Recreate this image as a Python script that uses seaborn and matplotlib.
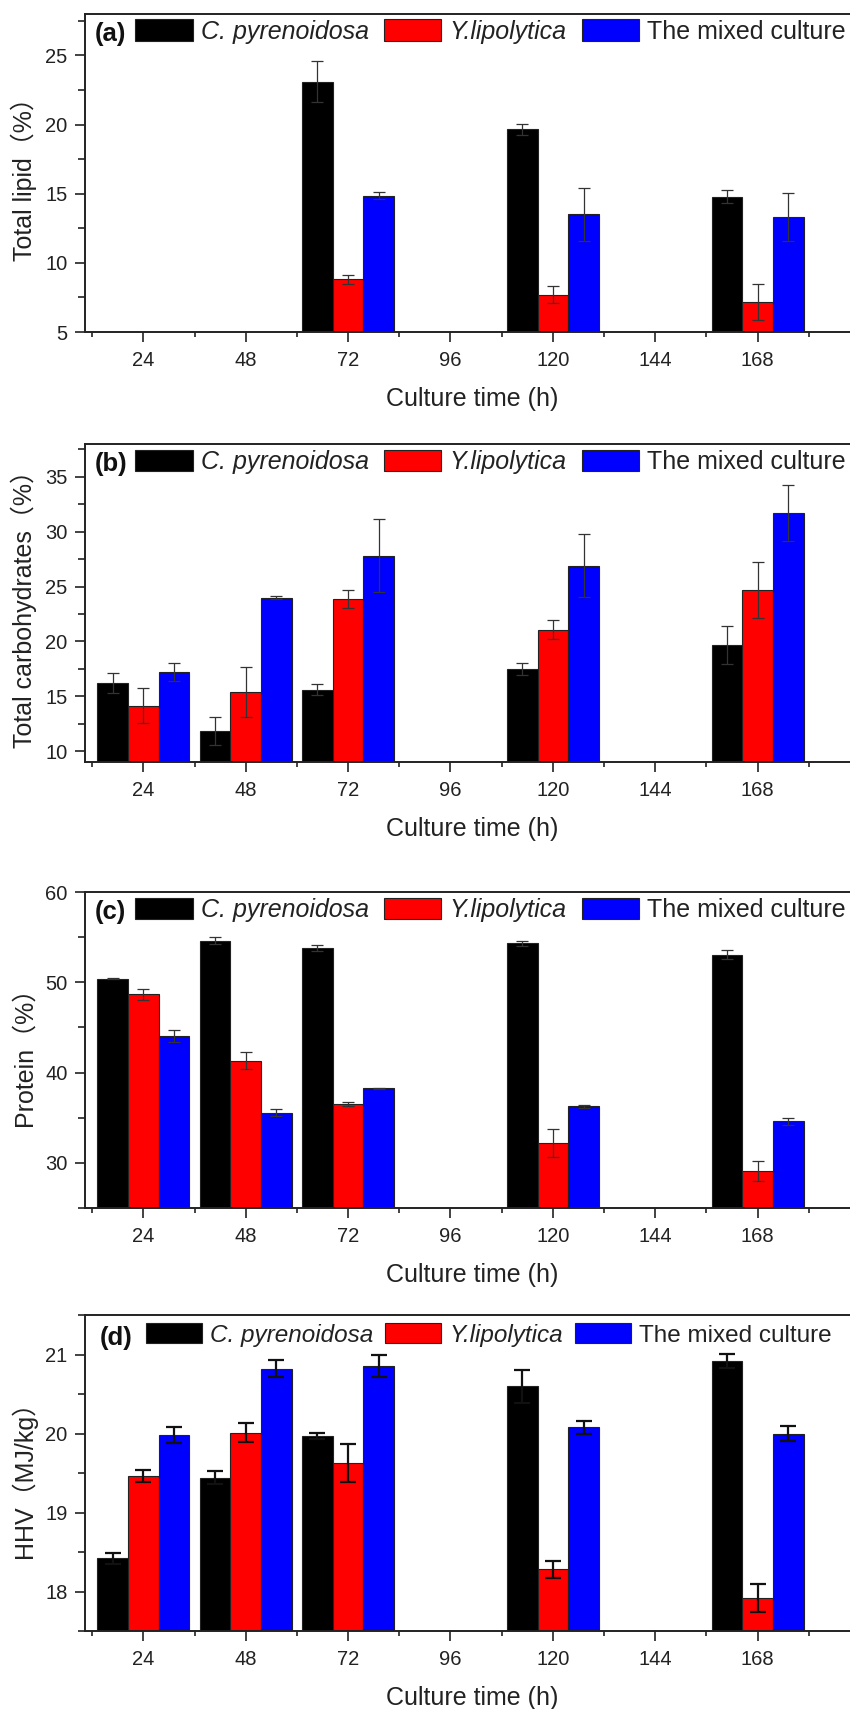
import numpy as np
import pandas as pd
import matplotlib
matplotlib.use("Agg")
import matplotlib.pyplot as plt
import seaborn as sns
from matplotlib.ticker import MultipleLocator, FixedLocator

nan = np.nan

# ---------------- data ----------------
times = [24, 48, 72, 96, 120, 144, 168]
groups = ["C. pyrenoidosa", "Y.lipolytica", "The mixed culture"]
colors = ["#000000", "#ff0000", "#0000ff"]

lipid_cp = [nan, nan, 23.10, nan, 19.65, nan, 14.80]
lipid_cp_sd = [nan, nan, 1.47, nan, 0.39, nan, 0.48]
lipid_yl = [nan, nan, 8.80, nan, 7.70, nan, 7.20]
lipid_yl_sd = [nan, nan, 0.34, nan, 0.60, nan, 1.30]
lipid_mix = [nan, nan, 14.85, nan, 13.50, nan, 13.30]
lipid_mix_sd = [nan, nan, 0.24, nan, 1.92, nan, 1.75]

carb_cp = [16.20, 11.80, 15.60, nan, 17.50, nan, 19.65]
carb_cp_sd = [0.90, 1.27, 0.48, nan, 0.57, nan, 1.73]
carb_yl = [14.15, 15.40, 23.85, nan, 21.05, nan, 24.70]
carb_yl_sd = [1.58, 2.27, 0.85, nan, 0.87, nan, 2.55]
carb_mix = [17.20, 24.00, 27.80, nan, 26.90, nan, 31.70]
carb_mix_sd = [0.85, 0.10, 3.33, nan, 2.85, nan, 2.55]

prot_cp = [50.40, 54.60, 53.80, nan, 54.30, nan, 53.05]
prot_cp_sd = [0.07, 0.40, 0.37, nan, 0.26, nan, 0.48]
prot_yl = [48.65, 41.30, 36.50, nan, 32.20, nan, 29.10]
prot_yl_sd = [0.66, 0.95, 0.22, nan, 1.54, nan, 1.14]
prot_mix = [44.05, 35.55, 38.25, nan, 36.25, nan, 34.60]
prot_mix_sd = [0.70, 0.40, 0.04, nan, 0.19, nan, 0.40]

hhv_cp = [18.42, 19.44, 19.97, nan, 20.60, nan, 20.92]
hhv_cp_sd = [0.07, 0.08, 0.04, nan, 0.21, nan, 0.09]
hhv_yl = [19.46, 20.01, 19.63, nan, 18.28, nan, 17.92]
hhv_yl_sd = [0.08, 0.12, 0.24, nan, 0.11, nan, 0.18]
hhv_mix = [19.98, 20.82, 20.85, nan, 20.08, nan, 20.00]
hhv_mix_sd = [0.10, 0.11, 0.14, nan, 0.08, nan, 0.10]

panels = [
    dict(tag="(a)", ylabel="Total lipid（%）", ylim=(5, 28), major=5, minor=2.5,
         values=[lipid_cp, lipid_yl, lipid_mix], sds=[lipid_cp_sd, lipid_yl_sd, lipid_mix_sd],
         bold_err=False, leg_x=50, tag_x=10, leg_y=5.5, colsp=0.6, legfs=18),
    dict(tag="(b)", ylabel="Total carbohydrates（%）", ylim=(9, 38), major=5, minor=2.5,
         values=[carb_cp, carb_yl, carb_mix], sds=[carb_cp_sd, carb_yl_sd, carb_mix_sd],
         bold_err=False, leg_x=50, tag_x=10, leg_y=5.5, colsp=0.6, legfs=18),
    dict(tag="(c)", ylabel="Protein（%）", ylim=(25, 60), major=10, minor=5,
         values=[prot_cp, prot_yl, prot_mix], sds=[prot_cp_sd, prot_yl_sd, prot_mix_sd],
         bold_err=False, leg_x=50, tag_x=10, leg_y=5.5, colsp=0.6, legfs=18),
    dict(tag="(d)", ylabel="HHV（MJ/kg）", ylim=(17.5, 21.5), major=1, minor=0.5,
         values=[hhv_cp, hhv_yl, hhv_mix], sds=[hhv_cp_sd, hhv_yl_sd, hhv_mix_sd],
         bold_err=True, leg_x=61, tag_x=15, leg_y=8, colsp=0.5, legfs=17.5),
]

# ---------------- style ----------------
sns.set_style("white")
plt.rcParams["font.family"] = ["Liberation Sans", "Noto Sans CJK SC", "DejaVu Sans"]
plt.rcParams["axes.edgecolor"] = "#222222"

W, H = 850, 1709
fig = plt.figure(figsize=(W / 100, H / 100), dpi=100)
fig.patch.set_facecolor("white")

# axes placement in pixels (top, bottom)
boxes = [(14, 332), (444, 762), (892, 1208), (1315, 1631)]
ax_left, ax_width = 85, 775

for p, (top, bot) in zip(panels, boxes):
    ax = fig.add_axes([ax_left / W, 1 - bot / H, ax_width / W, (bot - top) / H])
    rows = []
    for g, vals, sds in zip(groups, p["values"], p["sds"]):
        for t, v, s in zip(times, vals, sds):
            rows.append(dict(time=t, group=g, value=v, sd=s))
    df = pd.DataFrame(rows)
    sns.barplot(data=df, x="time", y="value", hue="group", order=times, hue_order=groups,
                palette=colors, saturation=1, width=0.9, errorbar=None,
                edgecolor="#222222", linewidth=0.8, ax=ax, legend=False)
    bar_conts = list(ax.containers)

    sd_lookup = {(r.group, r.time): r.sd for r in df.itertuples()}
    if p["bold_err"]:
        ekw = dict(color="#111111", elinewidth=1.6, capsize=5.5, capthick=1.6)
    else:
        ekw = dict(color="#333333", elinewidth=0.9, capsize=4.5, capthick=0.9)
    for g, cont in zip(groups, bar_conts):
        for bar in cont:
            h = bar.get_height()
            if not np.isfinite(h):
                continue
            xc = bar.get_x() + bar.get_width() / 2
            t = times[int(round(xc))]
            ax.errorbar(xc, h, yerr=sd_lookup[(g, t)], fmt="none", zorder=3, **ekw)

    ax.set_xlim(-0.57, 7.0)
    ax.set_ylim(*p["ylim"])
    ax.set_xticks(range(len(times)))
    ax.set_xticklabels([str(t) for t in times])
    ax.xaxis.set_minor_locator(FixedLocator(np.arange(-0.5, len(times), 1.0)))
    ax.yaxis.set_major_locator(MultipleLocator(p["major"]))
    ax.yaxis.set_minor_locator(MultipleLocator(p["minor"]))

    ax.tick_params(axis="x", which="major", direction="out", length=7, width=1.2,
                   labelsize=14.5, pad=7, bottom=True, top=False, colors="#222222")
    ax.tick_params(axis="x", which="minor", direction="out", length=3.8, width=1.2,
                   bottom=True, top=False, colors="#222222")
    ax.tick_params(axis="y", which="major", direction="out", length=7, width=1.2,
                   labelsize=14.5, pad=5.5, left=True, right=False, colors="#222222")
    ax.tick_params(axis="y", which="minor", direction="out", length=5, width=1.2,
                   left=True, right=False, colors="#222222")
    for lab in ax.get_xticklabels() + ax.get_yticklabels():
        lab.set_color("#222222")
    for sp in ax.spines.values():
        sp.set_linewidth(1.4)
        sp.set_color("#222222")

    ax.set_xlabel("Culture time (h)", fontsize=18, labelpad=12, color="#222222")
    ax.set_ylabel(p["ylabel"], fontsize=18, labelpad=6, color="#222222")

    hpx = bot - top
    leg = ax.legend(bar_conts, groups, ncol=3, loc="upper left",
                    bbox_to_anchor=(p["leg_x"] / ax_width, 1 - p["leg_y"] / hpx),
                    frameon=False, fontsize=p["legfs"], handlelength=2.3, handleheight=0.92,
                    handletextpad=0.33, columnspacing=p["colsp"], borderpad=0, borderaxespad=0)
    for i, txt in enumerate(leg.get_texts()):
        txt.set_color("#222222")
        if i < 2:
            txt.set_fontstyle("italic")
    ax.text(p["tag_x"] / ax_width, 1 - (p["leg_y"] + 14.5) / hpx, p["tag"], transform=ax.transAxes,
            fontsize=18.5, fontweight="bold", ha="left", va="center", color="#111111")

fig.savefig("out.png", dpi=100)
